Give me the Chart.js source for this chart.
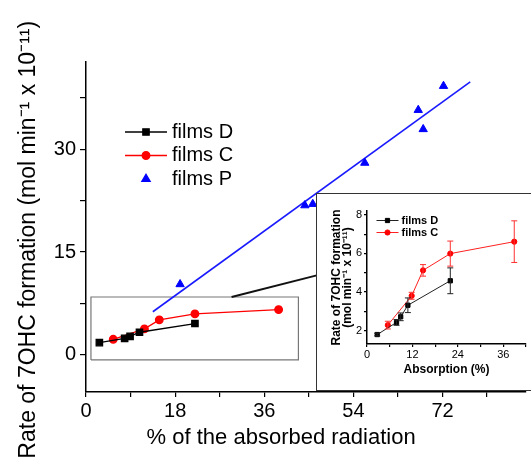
<!DOCTYPE html>
<html>
<head>
<meta charset="utf-8">
<script src="https://cdn.jsdelivr.net/npm/chart.js@4.4.1/dist/chart.umd.min.js"></script>
<style>
  html, body { margin: 0; padding: 0; background: #fff; }
  #wrap { position: relative; width: 531px; height: 462px; overflow: hidden; }
  #main { position: absolute; left: 0; top: 0; }
  #inset { position: absolute; left: 316px; top: 193px; width: 220px; height: 196px;
           border: 1.5px solid #333; background: #fff; }
  #insetChart { position: absolute; left: 0; top: 0; }
</style>
</head>
<body>
<div id="wrap">
  <canvas id="main" width="531" height="462"></canvas>
  <div id="inset"><canvas id="insetChart" width="214" height="196"></canvas></div>
</div>
<script>
// films D (black squares)
const dX = [2.7, 7.8, 8.9, 10.8, 22.0];
const dY = [1.79, 2.42, 2.71, 3.31, 4.58];
const dErr = [0.07, 0.15, 0.2, 0.38, 0.67];
// films C (red circles)
const cX = [5.5, 11.8, 14.8, 22.0, 38.9];
const cY = [2.28, 3.80, 5.12, 5.99, 6.61];
const cErr = [0.2, 0.18, 0.3, 0.65, 1.08];
// films P (blue triangles) and its straight fit line
const pX = [19.0, 44.2, 45.8, 56.3, 67.1, 68.1, 72.2];
const pY = [10.3, 21.8, 22.0, 28.0, 35.7, 32.9, 39.2];
const fitX = [13.5, 77.6];
const fitY = [6.3, 39.8];
// zoom rectangle around D/C data and the connector to the inset
const boxX = [1.0, 42.9, 42.9, 1.0, 1.0];
const boxY = [-0.73, -0.73, 8.45, 8.45, -0.73];
const linkX = [29.4, 46.6];
const linkY = [8.45, 11.6];

// tick values
const mainXTicks = [0, 9, 18, 27, 36, 45, 54, 63, 72, 81];
const mainXLabels = [0, 18, 36, 54, 72];
const mainYTicks = [0, 7.5, 15, 22.5, 30, 37.5];
const mainYLabels = [0, 15, 30];
const insetXTicks = [0, 6, 12, 18, 24, 30, 36, 42];
const insetXLabels = [0, 12, 24, 36];
const insetYTicks = [2, 3, 4, 5, 6, 7, 8];
const insetYLabels = [2, 4, 6, 8];

const pts = (xs, ys) => xs.map((x, i) => ({x: x, y: ys[i]}));

Chart.defaults.font.family = '"Liberation Sans", Arial, sans-serif';
Chart.defaults.color = '#000';

const floatLegend = {
  id: 'floatLegend',
  afterDraw(chart, args, o) {
    const ctx = chart.ctx;
    ctx.save();
    ctx.font = o.font;
    ctx.textBaseline = 'middle';
    let y = o.y;
    chart.data.datasets.forEach(ds => {
      if (ds.legend === false) return;
      if (ds.showLine) {
        ctx.strokeStyle = ds.borderColor;
        ctx.lineWidth = ds.borderWidth;
        ctx.beginPath();
        ctx.moveTo(o.x, y);
        ctx.lineTo(o.x + o.lineLen, y);
        ctx.stroke();
      }
      ctx.fillStyle = ds.pointBackgroundColor;
      ctx.strokeStyle = ds.pointBorderColor;
      Chart.helpers.drawPoint(ctx, {pointStyle: ds.pointStyle, radius: ds.pointRadius, borderWidth: 1}, o.x + o.lineLen / 2, y);
      ctx.fillStyle = '#000';
      ctx.fillText(ds.label, o.x + o.lineLen + o.gap, y);
      y += o.rowH;
    });
    ctx.restore();
  }
};

const errorBars = {
  id: 'errorBars',
  afterDatasetsDraw(chart) {
    const {ctx, scales: {x, y}} = chart;
    chart.data.datasets.forEach(ds => {
      if (!ds.errors) return;
      ctx.save();
      ctx.strokeStyle = ds.errorColor;
      ctx.lineWidth = 1;
      ds.data.forEach((p, j) => {
        const px = x.getPixelForValue(p.x);
        const t = y.getPixelForValue(p.y + ds.errors[j]);
        const b = y.getPixelForValue(p.y - ds.errors[j]);
        ctx.beginPath();
        ctx.moveTo(px, t); ctx.lineTo(px, b);
        ctx.moveTo(px - 3, t); ctx.lineTo(px + 3, t);
        ctx.moveTo(px - 3, b); ctx.lineTo(px + 3, b);
        ctx.stroke();
      });
      ctx.restore();
    });
  }
};

function axis(min, max, ticks, labels, size, tickLen, pad, widthOrHeight, horizontal, title) {
  return {
    type: 'linear',
    min: min,
    max: max,
    afterBuildTicks: s => { s.ticks = ticks.map(v => ({value: v})); },
    afterFit: s => { if (horizontal) s.height = widthOrHeight; else s.width = widthOrHeight; },
    ticks: {
      autoSkip: false, maxRotation: 0, padding: pad,
      font: {size: size},
      callback: v => labels.includes(v) ? String(v) : ''
    },
    grid: {drawOnChartArea: false, color: '#000', tickLength: tickLen, lineWidth: 1.2},
    border: {color: '#000', width: 1.5},
    title: title
  };
}

new Chart(document.getElementById('main'), {
  type: 'scatter',
  data: {
    datasets: [
      {
        label: 'films D', data: pts(dX, dY), showLine: true,
        borderColor: '#000', borderWidth: 1.3,
        pointStyle: 'rect', pointRadius: 4.5,
        pointBackgroundColor: '#000', pointBorderColor: '#000'
      },
      {
        label: 'films C', data: pts(cX, cY), showLine: true,
        borderColor: '#ff0000', borderWidth: 1.3,
        pointStyle: 'circle', pointRadius: 3.8,
        pointBackgroundColor: '#ff0000', pointBorderColor: '#ff0000'
      },
      {
        label: 'films P', data: pts(pX, pY), showLine: false,
        pointStyle: 'triangle', pointRadius: 4.8,
        pointBackgroundColor: '#0000ff', pointBorderColor: '#0000ff'
      },
      {
        legend: false, data: pts(fitX, fitY), showLine: true,
        borderColor: '#1a1aff', borderWidth: 1.6, pointRadius: 0
      },
      {
        legend: false, data: pts(linkX, linkY), showLine: true,
        borderColor: '#111', borderWidth: 2, pointRadius: 0
      },
      {
        legend: false, data: pts(boxX, boxY), showLine: true,
        borderColor: '#777', borderWidth: 1.2, pointRadius: 0
      }
    ]
  },
  options: {
    responsive: false,
    animation: false,
    layout: {padding: {top: 62, left: 0, right: 0, bottom: 0}},
    plugins: {
      legend: {display: false},
      tooltip: {enabled: false},
      floatLegend: {x: 125, y: 132, lineLen: 42, gap: 5, rowH: 23.5, font: '20px "Liberation Sans", Arial, sans-serif'}
    },
    scales: {
      x: axis(0, 88.7, mainXTicks, mainXLabels, 20, 5, 2, 70, true,
        {display: true, text: '% of the absorbed radiation        ', font: {size: 22}, padding: {top: 0, bottom: 11}}),
      y: axis(-5.4, 42.7, mainYTicks, mainYLabels, 20, 6, 4, 86, false,
        {display: true, text: 'Rate of 7OHC formation (mol min\u207B\u00B9 x 10\u207B\u00B9\u00B9)    ', font: {size: 23}, padding: {top: 15, bottom: 0}})
    }
  },
  plugins: [floatLegend]
});

new Chart(document.getElementById('insetChart'), {
  type: 'scatter',
  data: {
    datasets: [
      {
        label: 'films D', data: pts(dX, dY), showLine: true,
        borderColor: '#222', borderWidth: 1,
        pointStyle: 'rect', pointRadius: 3,
        pointBackgroundColor: '#000', pointBorderColor: '#000',
        errors: dErr, errorColor: '#222'
      },
      {
        label: 'films C', data: pts(cX, cY), showLine: true,
        borderColor: '#ff2020', borderWidth: 1,
        pointStyle: 'circle', pointRadius: 2.6,
        pointBackgroundColor: '#ff0000', pointBorderColor: '#ff0000',
        errors: cErr, errorColor: '#ff3030'
      }
    ]
  },
  options: {
    responsive: false,
    animation: false,
    layout: {padding: {top: 17, left: 0, right: 5, bottom: 0}},
    plugins: {
      legend: {display: false},
      tooltip: {enabled: false},
      floatLegend: {x: 59.5, y: 26.5, lineLen: 22, gap: 3, rowH: 12, font: 'bold 11px "Liberation Sans", Arial, sans-serif'}
    },
    scales: {
      x: axis(0, 42, insetXTicks, insetXLabels, 11, 3, 1, 46, true,
        {display: true, text: 'Absorption (%)', font: {size: 12, weight: 'bold'}, padding: {top: 0, bottom: 13}}),
      y: axis(1.3, 8.2, insetYTicks, insetYLabels, 11, 3, 2, 50, false,
        {display: true, text: ['Rate of 7OHC formation', '(mol min\u207B\u00B9 x 10\u207B\u00B9\u00B9)'],
         font: {size: 12, weight: 'bold', lineHeight: '11px'}, padding: {top: 14, bottom: 0}})
    }
  },
  plugins: [floatLegend, errorBars]
});
</script>
</body>
</html>
